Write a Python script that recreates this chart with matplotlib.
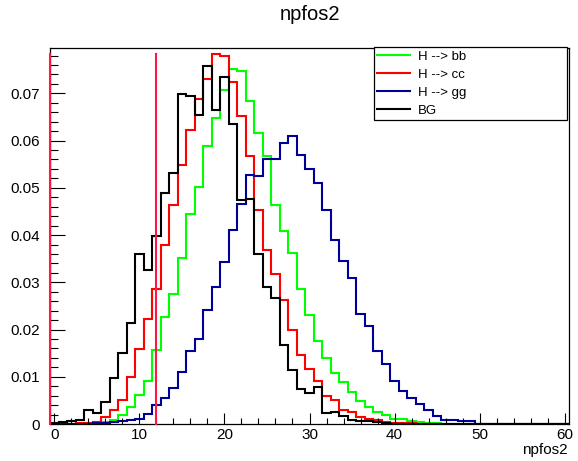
import numpy as np
import matplotlib
matplotlib.use("Agg")
import matplotlib.pyplot as plt
from matplotlib.ticker import MultipleLocator, FuncFormatter

plt.rcParams['font.family'] = ['Liberation Sans', 'DejaVu Sans']

# npfos2 is an integer count, 61 bins centred on 0..60
bin_edges = np.arange(-0.5, 61.5, 1.0)

labels = ["H --> bb", "H --> cc", "H --> gg", "BG"]
colors = ["#00ff00", "#ff0000", "#000099", "#000000"]

h_bb = [0, 0, 0, 0, 0.0001, 0.0002, 0.0004, 0.0008, 0.0018, 0.0036,
        0.0062, 0.0092, 0.0157, 0.0226, 0.0276, 0.0352, 0.0445, 0.0502, 0.0588, 0.0648,
        0.0708, 0.0752, 0.0747, 0.0683, 0.0617, 0.0567, 0.0463, 0.0408, 0.0362, 0.0285,
        0.0230, 0.0175, 0.0140, 0.0108, 0.0089, 0.0068, 0.0048, 0.0035, 0.0025, 0.0020,
        0.0011, 0.0010, 0.0006, 0.0004, 0.0003, 0.0002, 0.0001, 0.0001, 0.0001, 0,
        0, 0, 0, 0, 0, 0, 0, 0, 0, 0,
        0]

h_cc = [0, 0.0001, 0.0001, 0.0002, 0.0003, 0.0004, 0.0015, 0.0029, 0.0051, 0.0100,
        0.0158, 0.0223, 0.0286, 0.0380, 0.0464, 0.0548, 0.0623, 0.0687, 0.0730, 0.0783,
        0.0779, 0.0725, 0.0653, 0.0567, 0.0454, 0.0368, 0.0318, 0.0262, 0.0198, 0.0147,
        0.0116, 0.0091, 0.0059, 0.0050, 0.0030, 0.0026, 0.0015, 0.0011, 0.0008, 0.0004,
        0.0002, 0.0002, 0.0002, 0.0001, 0.0001, 0.0001, 0, 0, 0, 0,
        0, 0, 0, 0, 0, 0, 0, 0, 0, 0,
        0]

h_gg = [0, 0, 0.0001, 0.0001, 0.0001, 0.0002, 0.0003, 0.0005, 0.0006, 0.0008,
        0.0011, 0.0022, 0.0040, 0.0054, 0.0077, 0.0111, 0.0154, 0.0179, 0.0242, 0.0290,
        0.0343, 0.0410, 0.0466, 0.0528, 0.0526, 0.0562, 0.0560, 0.0595, 0.0610, 0.0570,
        0.0540, 0.0510, 0.0452, 0.0389, 0.0346, 0.0310, 0.0232, 0.0207, 0.0154, 0.0126,
        0.0092, 0.0070, 0.0054, 0.0042, 0.0029, 0.0016, 0.0009, 0.0009, 0.0006, 0.0006,
        0.0001, 0, 0, 0, 0, 0, 0, 0, 0, 0,
        0]

bg = [0.0002, 0.0004, 0.0006, 0.0008, 0.0030, 0.0023, 0.0047, 0.0098, 0.0151, 0.0214,
      0.0359, 0.0325, 0.0398, 0.0488, 0.0532, 0.0699, 0.0694, 0.0655, 0.0758, 0.0665,
      0.0735, 0.0636, 0.0475, 0.0477, 0.0359, 0.0289, 0.0267, 0.0167, 0.0115, 0.0075,
      0.0066, 0.0078, 0.0024, 0.0026, 0.0016, 0.0008, 0.0006, 0.0006, 0.0004, 0.0003,
      0.0001, 0.0001, 0, 0, 0, 0, 0, 0, 0, 0,
      0, 0, 0, 0, 0, 0, 0, 0, 0, 0,
      0]

cut_values = [-0.5, 12]

W, H = 578, 461
fig = plt.figure(figsize=(W / 100, H / 100), dpi=100)
ax = fig.add_axes([50 / W, 37 / H, 519 / W, 376 / H])

for vals, lab, col in zip([h_bb, h_cc, h_gg, bg], labels, colors):
    ax.stairs(vals, bin_edges, color=col, lw=1.5, label=lab)

top = max(max(h_bb), max(h_cc), max(h_gg), max(bg))
for c in cut_values:
    ax.plot([c, c], [0, top], color="#ff1744", lw=1.5, zorder=3, clip_on=False)

ax.set_xlim(bin_edges[0], bin_edges[-1])
ax.set_ylim(0, 0.0796)

ax.xaxis.set_major_locator(MultipleLocator(10))
ax.xaxis.set_minor_locator(MultipleLocator(2))
ax.yaxis.set_major_locator(MultipleLocator(0.01))
ax.yaxis.set_minor_locator(MultipleLocator(0.002))
ax.yaxis.set_major_formatter(FuncFormatter(lambda v, p: "%g" % round(v, 3)))

ax.tick_params(axis='x', which='major', direction='in', length=8, width=0.8, labelsize=11, pad=3)
ax.tick_params(axis='x', which='minor', direction='in', length=4.3, width=0.8)
ax.tick_params(axis='y', which='major', direction='in', length=11, width=0.8, labelsize=11, pad=7)
ax.tick_params(axis='y', which='minor', direction='in', length=5.7, width=0.8)
for s in ax.spines.values():
    s.set_linewidth(0.9)

leg = ax.legend(loc='upper left', bbox_to_anchor=(374 / W, 1 - 118 / H, 193 / W, 71 / H),
                bbox_transform=fig.transFigure, mode='expand', borderaxespad=0,
                fontsize=9.5, handlelength=2.5, handletextpad=0.55, labelspacing=0.44,
                borderpad=0.25, fancybox=False, framealpha=1, edgecolor='black')
leg.get_frame().set_linewidth(0.9)

fig.text(310 / W, 1 - 15 / H, "npfos2", ha='center', va='center', fontsize=14.5)
fig.text(568 / W, 1 - 450 / H, "npfos2", ha='right', va='center', fontsize=11)

fig.savefig("out.png", dpi=100)
